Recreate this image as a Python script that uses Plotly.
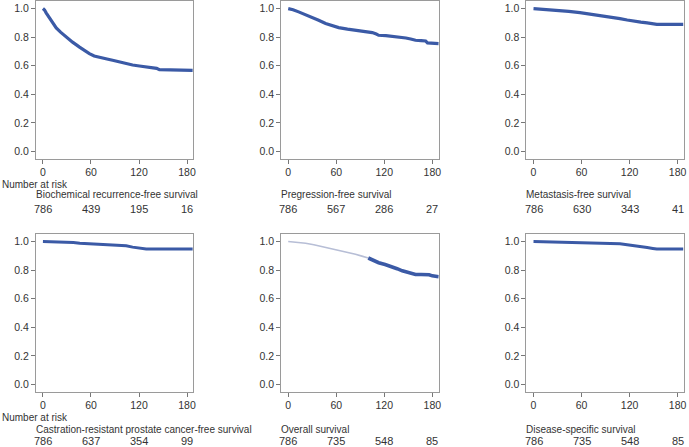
import plotly.graph_objects as go

W, H = 689, 447

# ---------------- data ----------------
titles = [
    "Biochemical recurrence-free survival",
    "Pregression-free survival",
    "Metastasis-free survival",
    "Castration-resistant prostate cancer-free survival",
    "Overall survival",
    "Disease-specific survival",
]
risk_times = [0, 60, 120, 180]
risk_bcr = [786, 439, 195, 16]
risk_pfs = [786, 567, 286, 27]
risk_mfs = [786, 630, 343, 41]
risk_crpc = [786, 637, 354, 99]
risk_os = [786, 735, 548, 85]
risk_dss = [786, 735, 548, 85]

bcr_t = [0, 2, 4, 7.5, 12, 16.6, 22, 29, 37, 45.7, 52, 58, 64, 70.7, 80, 87, 96, 104, 112, 120.5, 130, 137, 142, 145.5, 160, 175, 187]
bcr_s = [1.0, 0.99, 0.97, 0.94, 0.90, 0.865, 0.835, 0.80, 0.765, 0.73, 0.705, 0.685, 0.668, 0.657, 0.647, 0.638, 0.626, 0.614, 0.605, 0.598, 0.592, 0.586, 0.582, 0.572, 0.570, 0.569, 0.568]

pfs_t = [0, 6, 13, 21, 30, 38, 46.7, 55, 63, 74, 84, 95, 105, 110, 113, 122, 130, 139, 147, 153, 159, 166, 171.7, 174, 181, 188]
pfs_s = [1.0, 0.992, 0.977, 0.96, 0.94, 0.918, 0.895, 0.878, 0.867, 0.856, 0.848, 0.841, 0.832, 0.822, 0.813, 0.810, 0.806, 0.800, 0.794, 0.787, 0.778, 0.775, 0.773, 0.760, 0.757, 0.755]

mfs_t = [0, 15, 29, 44, 58, 70, 83, 96, 108, 117, 125, 134, 142, 150, 154, 170, 187]
mfs_s = [1.0, 0.995, 0.988, 0.981, 0.972, 0.963, 0.953, 0.943, 0.93, 0.92, 0.911, 0.905, 0.90, 0.895, 0.89, 0.89, 0.89]

crpc_t = [0, 29, 38, 46, 58, 71, 82, 91, 98, 104, 112, 120.5, 129, 150, 170, 187]
crpc_s = [1.0, 0.998, 0.993, 0.988, 0.984, 0.981, 0.979, 0.977, 0.974, 0.97, 0.961, 0.953, 0.948, 0.948, 0.948, 0.948]

os_light_t = [0, 10, 21.7, 32, 42.5, 50, 59, 66, 71.7, 78, 84, 92, 100]
os_light_s = [1.0, 0.996, 0.988, 0.978, 0.965, 0.954, 0.942, 0.932, 0.925, 0.918, 0.911, 0.898, 0.885]
os_dark_t = [100, 106, 113, 121, 130, 136, 142.5, 150, 159, 166, 176, 180, 184, 188]
os_dark_s = [0.885, 0.868, 0.852, 0.839, 0.824, 0.81, 0.795, 0.782, 0.770, 0.770, 0.768, 0.760, 0.754, 0.754]

dss_t = [0, 20, 46, 65, 83, 96, 108, 117, 125, 134, 142, 149, 154, 170, 187]
dss_s = [1.0, 0.997, 0.993, 0.991, 0.989, 0.987, 0.985, 0.978, 0.97, 0.964, 0.958, 0.952, 0.948, 0.948, 0.948]

# ---------------- layout geometry (pixels) ----------------
col_left = [36, 282, 528]
box_w = 158
row_top = [1, 234]
box_h = 158
row_text = [  # (number at risk, title, counts) centre y in px
    (184, 195, 209),
    (417, 429, 441),
]

DARK = "#3b5aa6"
LIGHT = "#b7bed6"
TXT = "#333333"
AX = "#9a9a9a"
FONT = "Liberation Sans, Arial, sans-serif"

fig = go.Figure()

panels = [
    ([(bcr_t, bcr_s, DARK, 3.2)], risk_bcr),
    ([(pfs_t, pfs_s, DARK, 3.2)], risk_pfs),
    ([(mfs_t, mfs_s, DARK, 3.2)], risk_mfs),
    ([(crpc_t, crpc_s, DARK, 3.0)], risk_crpc),
    ([(os_light_t, os_light_s, LIGHT, 1.6), (os_dark_t, os_dark_s, DARK, 3.6)], risk_os),
    ([(dss_t, dss_s, DARK, 3.0)], risk_dss),
]


def px2x(p):
    return p / W


def py2y(p):
    return 1 - p / H


for i, (curves, risk) in enumerate(panels):
    r, c = divmod(i, 3)
    n = i + 1
    xa = "x" if n == 1 else f"x{n}"
    ya = "y" if n == 1 else f"y{n}"
    for t, s, col, w in curves:
        fig.add_trace(go.Scatter(x=t, y=s, mode="lines", xaxis=xa, yaxis=ya,
                                 line=dict(color=col, width=w), showlegend=False,
                                 hoverinfo="skip"))
    xd = [px2x(col_left[c]), px2x(col_left[c] + box_w)]
    yd = [py2y(row_top[r] + box_h), py2y(row_top[r])]
    common = dict(showline=True, mirror=True, linecolor=AX, linewidth=1,
                  ticks="outside", ticklen=4, tickcolor="#777", tickwidth=1,
                  showgrid=False, zeroline=False,
                  tickfont=dict(family=FONT, size=10.5, color=TXT))
    fig.update_layout(**{
        ("xaxis" if n == 1 else f"xaxis{n}"): dict(
            domain=xd, range=[-8.8, 188], tickvals=risk_times,
            anchor=ya, ticklabelstandoff=-1, **common),
        ("yaxis" if n == 1 else f"yaxis{n}"): dict(
            domain=yd, range=[-0.053, 1.053], tickvals=[0, 0.2, 0.4, 0.6, 0.8, 1.0],
            tickformat=".1f", anchor=xa, **common),
    })
    nar_y, title_y, cnt_y = row_text[r]
    if c == 0:
        fig.add_annotation(text="Number at risk", x=0, y=py2y(nar_y), xref="paper", yref="paper",
                           xanchor="left", yanchor="middle", showarrow=False,
                           font=dict(family=FONT, size=10, color=TXT))
    fig.add_annotation(text=titles[i], x=px2x(col_left[c] - 2), y=py2y(title_y),
                       xref="paper", yref="paper", xanchor="left", yanchor="middle",
                       showarrow=False, font=dict(family=FONT, size=10, color=TXT))
    for tv, cnt in zip(risk_times, risk):
        fig.add_annotation(text=str(cnt), x=tv, y=py2y(cnt_y), xref=xa, yref="paper",
                           xanchor="center", yanchor="middle", showarrow=False,
                           font=dict(family=FONT, size=11, color=TXT))

fig.update_layout(width=W, height=H, margin=dict(l=0, r=0, t=0, b=0),
                  paper_bgcolor="white", plot_bgcolor="white",
                  font=dict(family=FONT, color=TXT))

fig.write_html("out.html", config={"displayModeBar": False},
               post_script="document.body.style.margin='0';document.body.style.overflow='hidden';")
